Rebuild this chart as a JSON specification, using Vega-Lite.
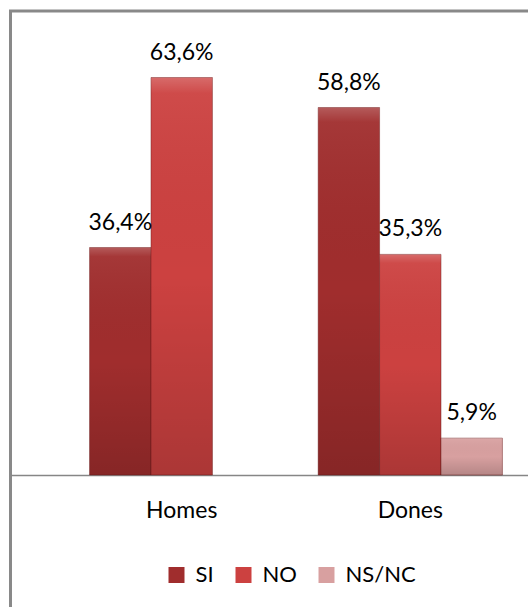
{
  "$schema": "https://vega.github.io/schema/vega-lite/v6.json",
  "width": 571,
  "height": 640,
  "autosize": {"type": "none"},
  "padding": {"left": 10.5, "top": 11, "right": 0, "bottom": 0},
  "background": "white",
  "config": {
    "view": {"stroke": "#898989", "strokeWidth": 3},
    "font": "Lato"
  },
  "data": {
    "values": [
      {"grup": "Homes", "resposta": "SI", "valor": 0.364},
      {"grup": "Homes", "resposta": "NO", "valor": 0.636},
      {"grup": "Dones", "resposta": "SI", "valor": 0.588},
      {"grup": "Dones", "resposta": "NO", "valor": 0.353},
      {"grup": "Dones", "resposta": "NS/NC", "valor": 0.059}
    ]
  },
  "transform": [
    {"calculate": "replace(format(datum.valor, '.1%'), '.', ',')", "as": "etiqueta"}
  ],
  "encoding": {
    "x": {
      "field": "grup",
      "type": "nominal",
      "sort": ["Homes", "Dones"],
      "scale": {"paddingInner": 0.194, "paddingOuter": 0.346},
      "axis": {
        "orient": "bottom",
        "offset": -176,
        "domain": true,
        "domainColor": "#868686",
        "domainWidth": 1.5,
        "ticks": false,
        "title": null,
        "labelAngle": 0,
        "labelFont": "Lato",
        "labelFontSize": 23,
        "labelColor": "#000000",
        "labelBaseline": "alphabetic",
        "labelPadding": 42
      }
    },
    "xOffset": {
      "field": "resposta",
      "type": "nominal",
      "scale": {"domain": ["SI", "NO", "NS/NC"], "paddingInner": 0, "paddingOuter": 0}
    },
    "y": {
      "field": "valor",
      "type": "quantitative",
      "scale": {"domain": [-0.2816, 0.7424], "nice": false, "zero": false},
      "axis": null
    }
  },
  "layer": [
    {
      "mark": {"type": "bar", "stroke": "#6e1c1c", "strokeWidth": 0.8, "strokeOpacity": 0.6},
      "encoding": {
        "y2": {"datum": 0},
        "color": {
          "field": "resposta",
          "type": "nominal",
          "scale": {"domain": ["SI", "NO", "NS/NC"], "range": ["#a02d2d", "#cc4140", "#d8a0a0"]},
          "legend": {
            "title": null,
            "orient": "none",
            "direction": "horizontal",
            "legendX": 155,
            "legendY": 553,
            "symbolType": "square",
            "symbolSize": 256,
            "symbolStrokeWidth": 0,
            "labelFont": "Lato",
            "labelFontSize": 22,
            "labelColor": "#000000",
            "labelOffset": 8,
            "columnPadding": 18
          }
        }
      }
    },
    {
      "mark": {
        "type": "bar",
        "fill": {
          "gradient": "linear",
          "x1": 0, "y1": 0, "x2": 0, "y2": 1,
          "stops": [
            {"offset": 0, "color": "rgba(255,255,255,0.22)"},
            {"offset": 0.04, "color": "rgba(255,255,255,0.05)"},
            {"offset": 0.5, "color": "rgba(0,0,0,0)"},
            {"offset": 1, "color": "rgba(0,0,0,0.16)"}
          ]
        },
        "stroke": null
      },
      "encoding": {
        "y2": {"datum": 0}
      }
    },
    {
      "mark": {"type": "text", "baseline": "alphabetic", "dy": -18, "font": "Lato", "fontSize": 23, "color": "#000000"},
      "encoding": {
        "text": {"field": "etiqueta", "type": "nominal"}
      }
    }
  ]
}
